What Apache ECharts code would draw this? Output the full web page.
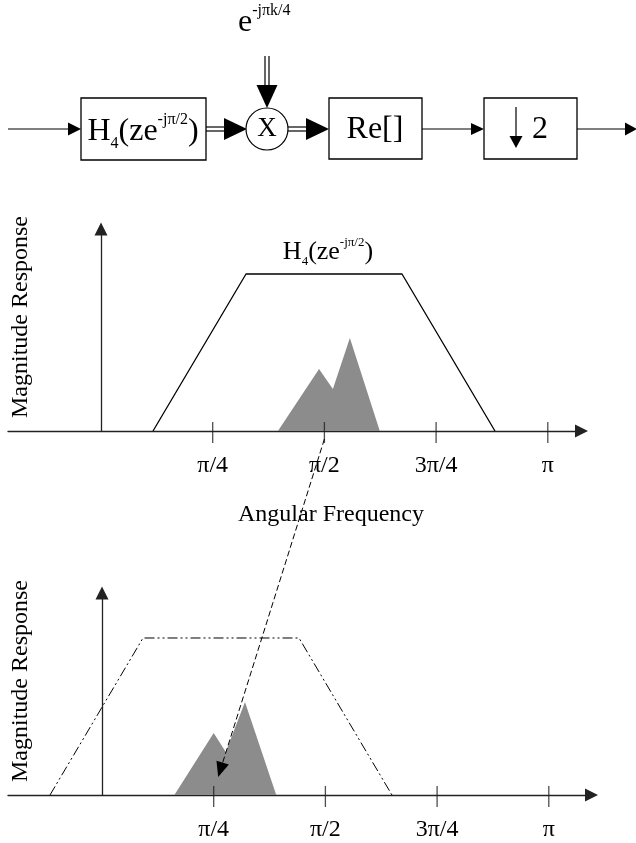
<!DOCTYPE html>
<html>
    <head>
        <meta charset="UTF-8">
        <title>Frequency shift and decimation</title>
        <script src="https://cdn.jsdelivr.net/npm/echarts@6/dist/echarts.min.js"></script>
        <style>
            html, body { margin: 0; padding: 0; background: #fff; }
        </style>
    </head>
    <body>
        <div id="main" style="width:636px; height:843px;"></div>
        <script>
            // x values are in units of pi (angular frequency / pi)
            var xTicks = [0.25, 0.5, 0.75, 1];
            var xTickLabels = ['π/4', 'π/2', '3π/4', 'π'];

            // top plot: H4(ze^{-jπ/2}) and the signal spectrum
            var topFilterX = [0.1164, 0.3245, 0.6737, 0.8818];
            var topFilterY = [0, 1, 1, 0];
            var topSpecX = [0.396, 0.488, 0.519, 0.557, 0.624];
            var topSpecY = [0, 0.395, 0.268, 0.592, 0];

            // bottom plot: after multiplying by e^{-jπk/4}
            var botFilterX = [-0.1164, 0.0918, 0.4409, 0.649];
            var botFilterY = [0, 1, 1, 0];
            var botSpecX = [0.162, 0.250, 0.277, 0.320, 0.390];
            var botSpecY = [0, 0.395, 0.274, 0.592, 0];

            // where the dashed "shift" arrow starts (top plot) and ends (bottom plot)
            var shiftFrom = [0.5, 0];
            var shiftTo = [0.26, 0.115];

            var serif = '"Liberation Serif", "Times New Roman", serif';

            function pairs(xs, ys) {
                return xs.map(function (x, i) { return [x, ys[i]]; });
            }

            function tickLabel(v) {
                var best = 0;
                for (var i = 1; i < xTicks.length; i++) {
                    if (Math.abs(xTicks[i] - v) < Math.abs(xTicks[best] - v)) best = i;
                }
                return xTickLabels[best];
            }

            function freqAxis(grid, min, max) {
                return {
                    type: 'value', gridIndex: grid, min: min, max: max, position: 'bottom',
                    axisLine: { show: true, onZero: true, symbol: ['none', 'triangle'], symbolSize: [13, 13],
                        lineStyle: { color: '#222', width: 1.3 } },
                    axisTick: { show: false },
                    axisLabel: { show: true, customValues: xTicks, formatter: tickLabel, margin: 23,
                        color: '#000', fontFamily: serif, fontSize: 24, hideOverlap: false },
                    splitLine: { show: false }
                };
            }
            function magAxis(grid) {
                return {
                    type: 'value', gridIndex: grid, min: 0, max: 1.2866,
                    axisLine: { show: true, onZero: true, symbol: ['none', 'triangle'], symbolSize: [13, 13],
                        lineStyle: { color: '#222', width: 1.3 } },
                    axisTick: { show: false },
                    axisLabel: { show: false },
                    splitLine: { show: false }
                };
            }
            // tick marks that cross the frequency axis (9px above, 12px below)
            function tickMarks(xi, yi) {
                return {
                    type: 'scatter', xAxisIndex: xi, yAxisIndex: yi, clip: false, silent: true,
                    data: xTicks.map(function (v) { return [v, 0]; }),
                    symbol: 'rect', symbolSize: [1.3, 21], symbolOffset: [0, 1.5],
                    itemStyle: { color: '#222' }, z: 3
                };
            }

            var chart = echarts.init(document.getElementById('main'));
            var option = {
                animation: false,
                backgroundColor: '#fff',
                grid: [
                    { left: 8, top: 229, width: 573.5, height: 202 },
                    { left: 8, top: 593, width: 583.5, height: 202 }
                ],
                xAxis: [
                    freqAxis(0, -0.20815, 1.07543),
                    freqAxis(1, -0.21038, 1.09557)
                ],
                yAxis: [magAxis(0), magAxis(1)],
                series: [
                    {
                        name: 'signal', type: 'line', xAxisIndex: 0, yAxisIndex: 0,
                        data: pairs(topSpecX, topSpecY), symbol: 'none',
                        lineStyle: { width: 0, opacity: 0 },
                        areaStyle: { color: '#8c8c8c', opacity: 1 }
                    },
                    {
                        name: 'H4', type: 'line', xAxisIndex: 0, yAxisIndex: 0,
                        data: pairs(topFilterX, topFilterY), symbol: 'none',
                        lineStyle: { color: '#000', width: 1.3 }
                    },
                    tickMarks(0, 0),
                    {
                        name: 'signal shifted', type: 'line', xAxisIndex: 1, yAxisIndex: 1,
                        data: pairs(botSpecX, botSpecY), symbol: 'none',
                        lineStyle: { width: 0, opacity: 0 },
                        areaStyle: { color: '#8c8c8c', opacity: 1 }
                    },
                    {
                        name: 'H4 shifted', type: 'line', xAxisIndex: 1, yAxisIndex: 1,
                        data: pairs(botFilterX, botFilterY), symbol: 'none',
                        lineStyle: { color: '#000', width: 1, type: [10, 3, 2, 3, 2, 3] }
                    },
                    tickMarks(1, 1)
                ]
            };
            chart.setOption(option);

            // ---- block diagram and annotations ----
            var g = [];
            function seg(x1, y1, x2, y2, w, dash) {
                g.push({ type: 'line', z: 100, shape: { x1: x1, y1: y1, x2: x2, y2: y2 },
                    style: { stroke: '#000', lineWidth: w || 1.2, lineDash: dash || null } });
            }
            function head(tx, ty, ux, uy, len, half) {
                var bx = tx - ux * len, by = ty - uy * len;
                g.push({ type: 'polygon', z: 100,
                    shape: { points: [[tx, ty], [bx - uy * half, by + ux * half], [bx + uy * half, by - ux * half]] },
                    style: { fill: '#000' } });
            }
            function box(x, y, w, h) {
                g.push({ type: 'rect', z: 100, shape: { x: x, y: y, width: w, height: h },
                    style: { fill: '#fff', stroke: '#000', lineWidth: 1.3 } });
            }
            function txt(x, y, text, size, align, rich) {
                g.push({ type: 'text', x: x, y: y, z: 110,
                    style: { text: text, fill: '#000', fontFamily: serif, fontSize: size,
                        align: align, verticalAlign: 'middle', textAlign: align, textVerticalAlign: 'middle',
                        rich: rich } });
            }
            function supSub(size) {
                var s = size / 2;
                return {
                    m: { fontFamily: serif, fontSize: size, lineHeight: size * 1.25, color: '#000' },
                    sub: { fontFamily: serif, fontSize: s, lineHeight: s, verticalAlign: 'bottom', color: '#000' },
                    sup: { fontFamily: serif, fontSize: s, lineHeight: size * 0.875, verticalAlign: 'top', color: '#000' }
                };
            }

            var lineY = 129;
            // input
            seg(8, lineY, 70, lineY);
            head(81, lineY, 1, 0, 13, 6.5);
            box(81, 98, 125, 62);
            txt(143, 131.4, '{m|H}{sub|4}{m|(ze}{sup|-jπ/2}{m|)}', 32, 'center', supSub(32));
            // double line to multiplier
            seg(206, lineY - 2, 226, lineY - 2);
            seg(206, lineY + 2, 226, lineY + 2);
            head(247, lineY, 1, 0, 23, 11);
            g.push({ type: 'circle', z: 100, shape: { cx: 267, cy: lineY, r: 21 },
                style: { fill: '#fff', stroke: '#000', lineWidth: 1.2 } });
            txt(267, 129, 'X', 27, 'center');
            // modulation input
            seg(265, 56, 265, 87);
            seg(269, 56, 269, 87);
            head(267, 108, 0, 1, 23, 10.5);
            txt(238, 22.4, '{m|e}{sup|-jπk/4}', 32, 'left', supSub(32));
            // double line to Re[]
            seg(288, lineY - 2, 308, lineY - 2);
            seg(288, lineY + 2, 308, lineY + 2);
            head(329, lineY, 1, 0, 23, 11);
            box(329, 98, 93, 61);
            txt(375, 129.2, 'Re[]', 32, 'center');
            seg(422, lineY, 473, lineY);
            head(484, lineY, 1, 0, 13, 6);
            box(484, 98, 93, 61);
            seg(516, 107, 516, 138);
            head(516, 148, 0, 1, 12, 6.5);
            txt(532, 129.2, '2', 32, 'left');
            seg(577, lineY, 627, lineY);
            head(637, lineY, 1, 0, 12, 6.5);

            // plot annotations
            txt(328, 252, '{m|H}{sub|4}{m|(ze}{sup|-jπ/2}{m|)}', 26, 'center', supSub(26));
            txt(238, 515, 'Angular Frequency', 24, 'left');
            [317, 681].forEach(function (cy) {
                g.push({ type: 'text', x: 21, y: cy, rotation: Math.PI / 2, z: 110,
                    style: { text: 'Magnitude Response', fill: '#000', fontFamily: serif, fontSize: 24,
                        align: 'center', verticalAlign: 'middle', textAlign: 'center', textVerticalAlign: 'middle' } });
            });

            // dashed arrow: spectrum at pi/2 moves down to pi/4
            var p0 = chart.convertToPixel({ xAxisIndex: 0, yAxisIndex: 0 }, shiftFrom);
            var p1 = chart.convertToPixel({ xAxisIndex: 1, yAxisIndex: 1 }, shiftTo);
            p0[1] += 8;
            var dx = p1[0] - p0[0], dy = p1[1] - p0[1];
            var len = Math.sqrt(dx * dx + dy * dy);
            var ux = dx / len, uy = dy / len;
            seg(p0[0], p0[1], p1[0] - ux * 12, p1[1] - uy * 12, 1, [6, 3]);
            head(p1[0], p1[1], ux, uy, 15, 6.5);

            chart.setOption({ graphic: g });
        </script>
    </body>
</html>
